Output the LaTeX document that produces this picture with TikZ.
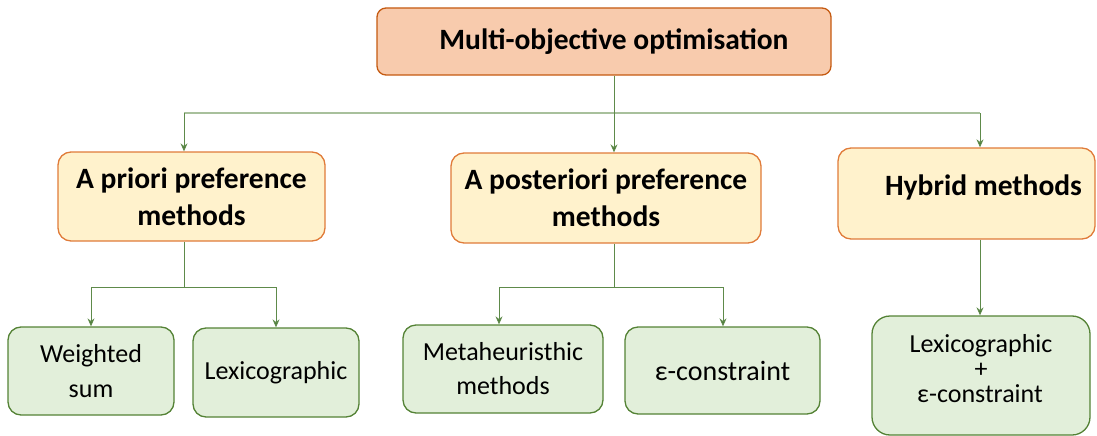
\documentclass[tikz,border=0pt]{standalone}
\usepackage{fontspec}
\setmainfont{Carlito}
\usetikzlibrary{arrows.meta}
\definecolor{topfill}{HTML}{F8CBAD}
\definecolor{topdraw}{HTML}{C55A11}
\definecolor{midfill}{HTML}{FFF2CC}
\definecolor{middraw}{HTML}{E07B39}
\definecolor{lowfill}{HTML}{E2EFDA}
\definecolor{lowdraw}{HTML}{548235}
\definecolor{conncol}{HTML}{5E8A4A}
\definecolor{buscol}{HTML}{A8C09C}
\definecolor{tipcol}{HTML}{3E6B2A}
\begin{document}
\begin{tikzpicture}[x=1pt,y=-1pt,
  box/.style={draw,line width=1.3pt,inner sep=0pt,align=center,text=black},
  topbox/.style={box,fill=topfill,draw=topdraw,rounded corners=9pt,font=\bfseries\fontsize{29.5}{34}\selectfont},
  midbox/.style={box,fill=midfill,draw=middraw,rounded corners=13pt,font=\bfseries\fontsize{29.5}{37}\selectfont},
  lowbox/.style={box,fill=lowfill,draw=lowdraw,rounded corners=13pt,font=\fontsize{26}{35}\selectfont},
  conn/.style={draw=conncol,line width=1pt},
  arr/.style={conn,-{Stealth[length=8pt,width=7pt,fill=tipcol]}},
  busline/.style={draw=buscol,line width=1.4pt}]
\useasboundingbox (0,0) rectangle (1097,436);

% boxes
\node[topbox,minimum width=454pt,minimum height=67pt] (top) at (604,41.5) {\hspace*{20pt}Multi-objective optimisation};

\node[midbox,minimum width=267pt,minimum height=89pt] (apriori) at (191.5,196.5) {A priori preference\\methods};
\node[midbox,minimum width=310pt,minimum height=90pt] (apost) at (606,198) {A posteriori preference\\methods};
\node[midbox,minimum width=257pt,minimum height=91pt,text height=20pt,text depth=17pt] (hybrid) at (966.5,193.5) {\hspace*{34pt}Hybrid methods};

\node[lowbox,minimum width=166pt,minimum height=88pt] (ws) at (91,371) {Weighted\\sum};
\node[lowbox,minimum width=166pt,minimum height=89pt] (lex) at (276,372.5) {Lexicographic};
\node[lowbox,minimum width=200pt,minimum height=88pt,font=\fontsize{26}{34}\selectfont] (meta) at (503,369) {Metaheuristhic\\methods};
\node[lowbox,minimum width=195pt,minimum height=87pt,font=\fontsize{28}{34}\selectfont] (eps) at (722.5,370.5) {ε-constraint};
\node[lowbox,minimum width=218pt,minimum height=119pt,rounded corners=18pt,font=\fontsize{26}{25}\selectfont] (lexeps) at (981,375.5) {Lexicographic\\+\\ε-constraint\hspace*{2pt}\rule[-14pt]{0pt}{1pt}};

% connectors level 1
\coordinate (bus) at (614,113);
\coordinate (busL) at (184,113);
\coordinate (busR) at (980,113);
\draw[busline] (busL) -- (busR);
\draw[conn] (top.south -| bus) -- (bus);
\draw[arr] (busL) -- (busL |- apriori.north);
\draw[arr] (bus) -- (bus |- apost.north);
\draw[arr] (busR) -- (busR |- hybrid.north);

% a priori
\coordinate (ja) at (184,287);
\coordinate (jaL) at (91,287);
\coordinate (jaR) at (276,287);
\draw[conn] (apriori.south -| ja) -- (ja);
\draw[conn] (jaL) -- (jaR);
\draw[arr] (jaL) -- (jaL |- ws.north);
\draw[arr] (jaR) -- (jaR |- lex.north);

% a posteriori
\coordinate (jp) at (614,287);
\coordinate (jpL) at (499,287);
\coordinate (jpR) at (723,287);
\draw[conn] (apost.south -| jp) -- (jp);
\draw[conn] (jpL) -- (jpR);
\draw[arr] (jpL) -- (jpL |- meta.north);
\draw[arr] (jpR) -- (jpR |- eps.north);

% hybrid
\draw[arr] (hybrid.south -| busR) -- (busR |- lexeps.north);
\end{tikzpicture}
\end{document}
